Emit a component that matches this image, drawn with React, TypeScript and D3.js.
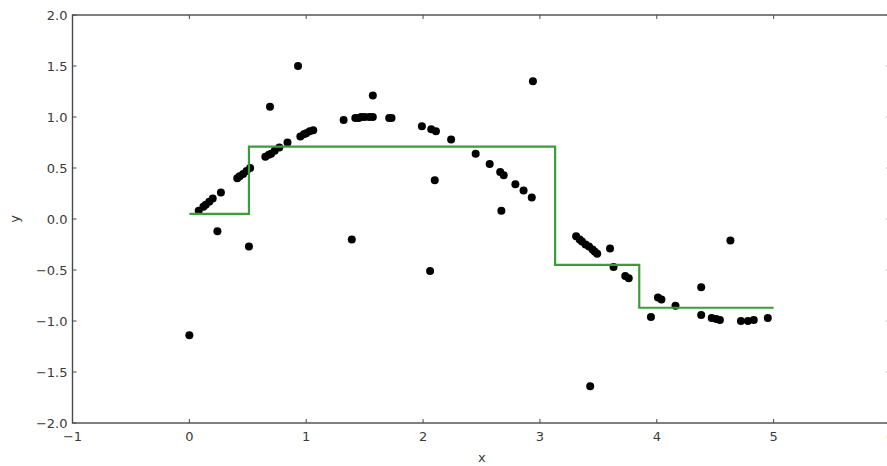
import React from "react";
import * as d3 from "d3";

const W = 887;
const H = 466;

// Scatter data (x, y)
const pointX = [
  0.0, 0.08, 0.12, 0.14, 0.17, 0.2, 0.24, 0.27,
  0.41, 0.43, 0.46, 0.49, 0.51, 0.52,
  0.65, 0.68, 0.69, 0.7, 0.73, 0.77, 0.84, 0.93,
  0.95, 0.98, 1.0, 1.03, 1.06,
  1.32, 1.39, 1.42, 1.45, 1.47, 1.5, 1.54, 1.57, 1.57,
  1.71, 1.73, 1.99, 2.06, 2.07, 2.1, 2.11, 2.24,
  2.45, 2.57, 2.66, 2.67, 2.69, 2.79, 2.86, 2.93, 2.94,
  3.31, 3.34, 3.36, 3.39, 3.42, 3.43, 3.45, 3.47, 3.49,
  3.6, 3.63, 3.73, 3.76, 3.95, 4.01, 4.04, 4.16,
  4.38, 4.38, 4.47, 4.51, 4.54, 4.63, 4.72, 4.78, 4.83, 4.95,
];
const pointY = [
  -1.14, 0.08, 0.12, 0.14, 0.17, 0.2, -0.12, 0.26,
  0.4, 0.42, 0.44, 0.47, -0.27, 0.5,
  0.61, 0.63, 1.1, 0.64, 0.67, 0.7, 0.75, 1.5,
  0.81, 0.83, 0.84, 0.86, 0.87,
  0.97, -0.2, 0.99, 0.99, 1.0, 1.0, 1.0, 1.0, 1.21,
  0.99, 0.99, 0.91, -0.51, 0.88, 0.38, 0.86, 0.78,
  0.64, 0.54, 0.46, 0.08, 0.43, 0.34, 0.28, 0.21, 1.35,
  -0.17, -0.2, -0.22, -0.25, -0.27, -1.64, -0.3, -0.32, -0.34,
  -0.29, -0.47, -0.56, -0.58, -0.96, -0.77, -0.79, -0.85,
  -0.67, -0.94, -0.97, -0.98, -0.99, -0.21, -1.0, -1.0, -0.99, -0.97,
];

// Step function (regression tree prediction): breakpoints and levels
const stepX = [0.0, 0.51, 3.13, 3.85, 5.0];
const stepY = [0.05, 0.71, -0.45, -0.87];

const xTicks = [-1, 0, 1, 2, 3, 4, 5, 6];
const yTicks = [-2.0, -1.5, -1.0, -0.5, 0.0, 0.5, 1.0, 1.5, 2.0];

export default function App() {
  const x = d3.scaleLinear().domain([-1, 6]).range([72.5, 890.5]);
  const y = d3.scaleLinear().domain([-2, 2]).range([423, 15]);

  const stepPts: [number, number][] = [];
  for (let i = 0; i < stepY.length; i++) {
    stepPts.push([stepX[i], stepY[i]]);
    stepPts.push([stepX[i + 1], stepY[i]]);
  }
  const line = d3
    .line<[number, number]>()
    .x((d) => x(d[0]))
    .y((d) => y(d[1]));

  const fmtY = (v: number) => v.toFixed(1).replace("-", "\u2212");
  const fmtX = (v: number) => String(v).replace("-", "\u2212");

  const x0 = x(-1), x1 = x(6), y0 = y(-2), y1 = y(2);
  const tickLen = 4;
  const axisColor = "#4a4a4a";
  const labelColor = "#3a3a3a";
  const font = "DejaVu Sans, sans-serif";

  return (
    <svg
      width={W}
      height={H}
      style={{ position: "absolute", left: 0, top: 0, background: "#fff" }}
    >
      <rect x={0} y={0} width={W} height={H} fill="#fff" />
      {/* points */}
      {pointX.map((px, i) => (
        <circle key={i} cx={x(px)} cy={y(pointY[i])} r={4} fill="#000" />
      ))}
      {/* step line */}
      <path d={line(stepPts) || ""} fill="none" stroke="#3c9c3c" strokeWidth={2.2} />
      {/* frame */}
      <rect
        x={x0}
        y={y1}
        width={x1 - x0}
        height={y0 - y1}
        fill="none"
        stroke={axisColor}
        strokeWidth={1.4}
      />
      {/* x ticks */}
      {xTicks.map((t) => (
        <g key={"xt" + t}>
          <line x1={x(t)} x2={x(t)} y1={y0} y2={y0 - tickLen} stroke={axisColor} strokeWidth={1} />
          <line x1={x(t)} x2={x(t)} y1={y1} y2={y1 + tickLen} stroke={axisColor} strokeWidth={1} />
          <text
            x={x(t)}
            y={y0 + 18}
            textAnchor="middle"
            fontFamily={font}
            fontSize={13}
            fill={labelColor}
          >
            {fmtX(t)}
          </text>
        </g>
      ))}
      {/* y ticks */}
      {yTicks.map((t) => (
        <g key={"yt" + t}>
          <line x1={x0} x2={x0 + tickLen} y1={y(t)} y2={y(t)} stroke={axisColor} strokeWidth={1} />
          <line x1={x1} x2={x1 - tickLen} y1={y(t)} y2={y(t)} stroke={axisColor} strokeWidth={1} />
          <text
            x={x0 - 5}
            y={y(t) + 4.5}
            textAnchor="end"
            fontFamily={font}
            fontSize={13}
            fill={labelColor}
          >
            {fmtY(t)}
          </text>
        </g>
      ))}
      {/* axis labels */}
      <text x={(x0 + 887) / 2 + 2} y={462} textAnchor="middle" fontFamily={font} fontSize={13} fill={labelColor}>
        x
      </text>
      <text
        transform={`translate(19, ${y(0)}) rotate(-90)`}
        textAnchor="middle"
        fontFamily={font}
        fontSize={13}
        fill={labelColor}
      >
        y
      </text>
    </svg>
  );
}
